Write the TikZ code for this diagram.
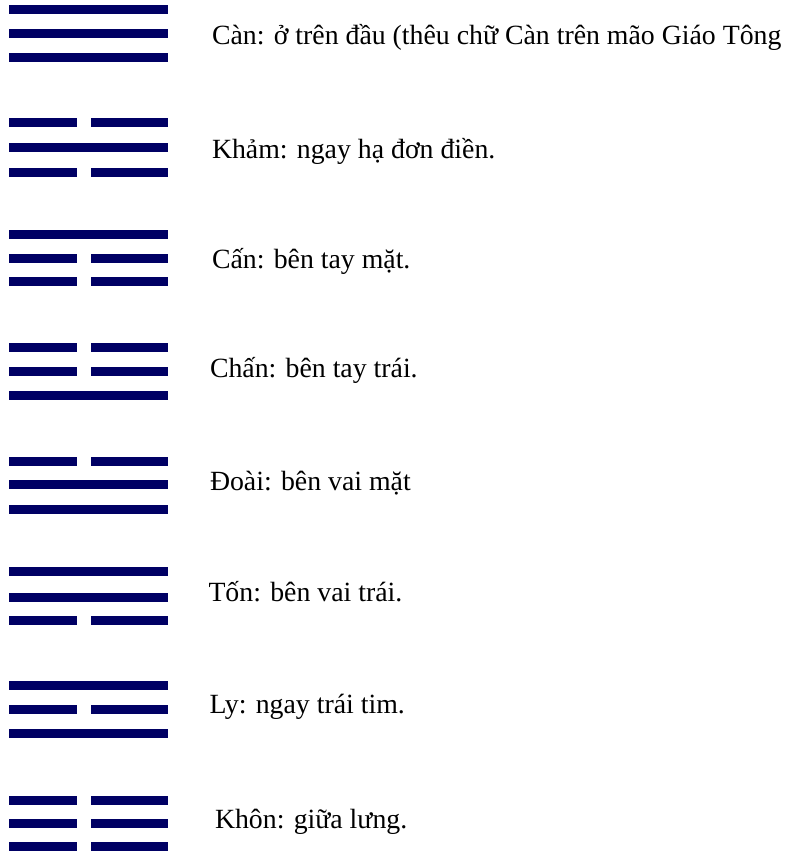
\documentclass[tikz,border=0pt]{standalone}
\usepackage{fontspec}
\setmainfont{Liberation Serif}
\definecolor{navybar}{RGB}{0,0,100}
\tikzset{
  lbl/.style={anchor=base west, inner sep=0pt, outer sep=0pt, text=black, font=\fontsize{27.8}{34}\selectfont},
}
% solid bar at vertical centre #1
\newcommand\yangline[1]{\fill[navybar] (9,#1-4.5) rectangle (168,#1+4.5);}
% broken bar at vertical centre #1
\newcommand\yinline[1]{\fill[navybar] (9,#1-4.5) rectangle (77,#1+4.5);\fill[navybar] (91,#1-4.5) rectangle (168,#1+4.5);}
\begin{document}
\begin{tikzpicture}[x=1pt,y=-1pt]
\useasboundingbox (0,0) rectangle (786,851);
% 1 Can
\yangline{9.5}\yangline{33.5}\yangline{57.5}
\node[lbl] (can) at (212,45) {Càn: ở trên đầu (thêu chữ Càn trên mão Giáo Tông};
% 2 Kham
\yinline{122.5}\yangline{147}\yinline{172}
\node[lbl] (kham) at (212,158) {Khảm: ngay hạ đơn điền.};
% 3 Can (mountain)
\yangline{234.5}\yinline{258}\yinline{281.5}
\node[lbl] (canmt) at (212,268) {Cấn: bên tay mặt.};
% 4 Chan
\yinline{347.5}\yinline{371.5}\yangline{395.5}
\node[lbl] (chan) at (210,377) {Chấn: bên tay trái.};
% 5 Doai
\yinline{461.5}\yangline{484.5}\yangline{509.5}
\node[lbl] (doai) at (210,490) {Đoài: bên vai mặt};
% 6 Ton
\yangline{571.5}\yangline{597}\yinline{620.5}
\node[lbl] (ton) at (208.5,601) {Tốn: bên vai trái.};
% 7 Ly
\yangline{685.5}\yinline{709}\yangline{733}
\node[lbl] (ly) at (209.5,713) {Ly: ngay trái tim.};
% 8 Khon
\yinline{800}\yinline{823.5}\yinline{846.5}
\node[lbl] (khon) at (215,828) {Khôn: giữa lưng.};
\end{tikzpicture}
\end{document}
